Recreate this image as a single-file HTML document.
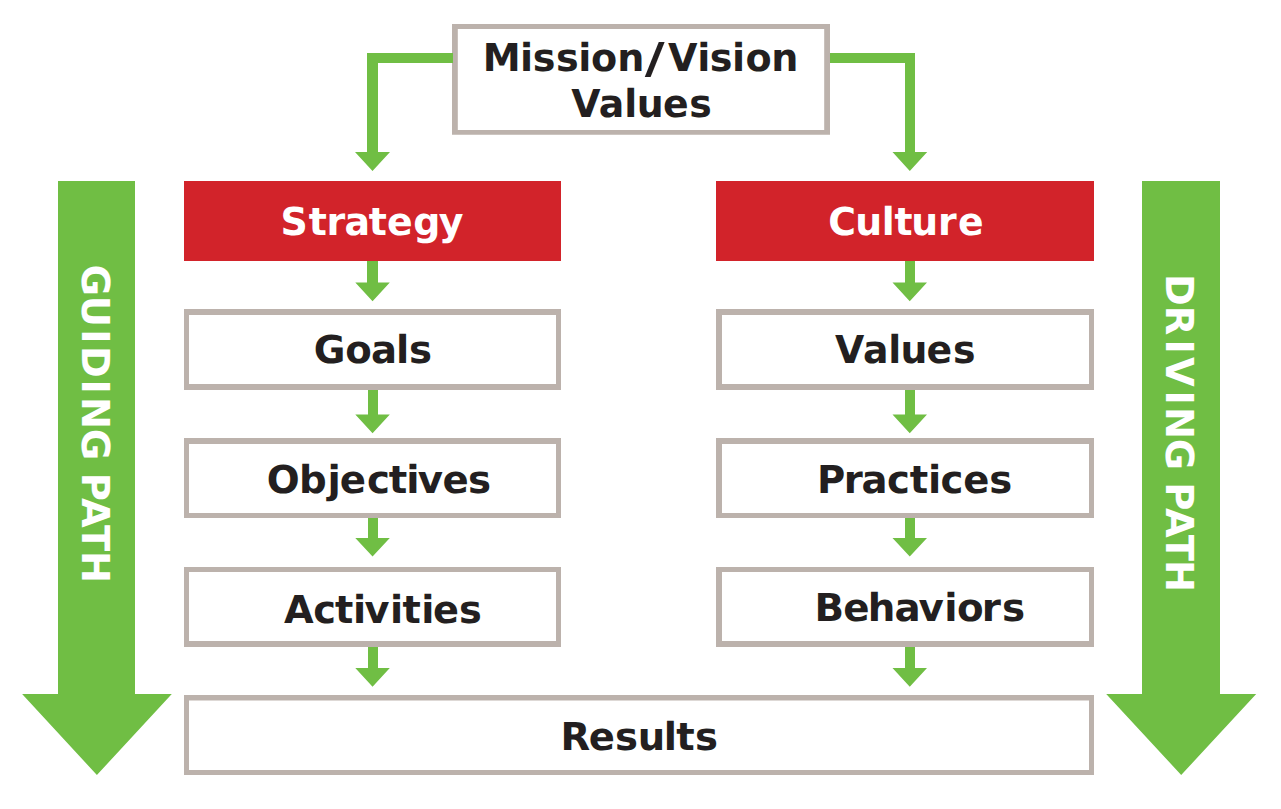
<!DOCTYPE html>
<html lang="en">
<head>
<meta charset="utf-8">
<title>Strategy and Culture: Guiding Path and Driving Path</title>
<style>
html,body{margin:0;padding:0;background:#fff;}
body{width:1281px;height:809px;overflow:hidden;}
svg{display:block;}
text{font-family:"DejaVu Sans","Liberation Sans",sans-serif;font-weight:700;font-size:38.5px;text-rendering:geometricPrecision;}
</style>
</head>
<body>
<svg width="1281" height="809" viewBox="0 0 1281 809">
<rect x="0" y="0" width="1281" height="809" fill="#fff"/>
<polygon points="367,261 378,261 378,282.5 389.8,282.5 372.55,301.3 355.3,282.5 367,282.5" fill="#70BE44"/>
<polygon points="905,261 915,261 915,282.5 927.0,282.5 909.75,301.3 892.5,282.5 905,282.5" fill="#70BE44"/>
<polygon points="368,390 378,390 378,414.5 389.8,414.5 372.55,433.3 355.3,414.5 368,414.5" fill="#70BE44"/>
<polygon points="368,518 378,518 378,538 389.8,538 372.55,556.6 355.3,538 368,538" fill="#70BE44"/>
<polygon points="368,647 378,647 378,668 389.8,668 372.55,686.7 355.3,668 368,668" fill="#70BE44"/>
<polygon points="905,390 915,390 915,414.5 927.0,414.5 909.75,433.3 892.5,414.5 905,414.5" fill="#70BE44"/>
<polygon points="905,518 915,518 915,538 927.0,538 909.75,556.6 892.5,538 905,538" fill="#70BE44"/>
<polygon points="905,647 915,647 915,668 927.0,668 909.75,686.7 892.5,668 905,668" fill="#70BE44"/>
<rect x="452" y="24" width="378" height="110.75" fill="#BCB2AC"/>
<rect x="457.8" y="29" width="366.4" height="101.0" fill="#fff"/>
<polygon points="453,53 453,63 378,63 378,152 390,152 372.5,171 355,152 367,152 367,53" fill="#70BE44"/>
<polygon points="830,53 830,63 905,63 905,152 892.5,152 909.8,171 927.2,152 915,152 915,53" fill="#70BE44"/>
<rect x="184" y="181" width="377" height="80" fill="#D2232A"/>
<rect x="716" y="181" width="378" height="80" fill="#D2232A"/>
<rect x="184" y="309" width="377" height="81" fill="#BCB2AC"/>
<rect x="189" y="315" width="367" height="69" fill="#fff"/>
<rect x="184" y="438" width="377" height="80" fill="#BCB2AC"/>
<rect x="189" y="444" width="367" height="69" fill="#fff"/>
<rect x="184" y="567" width="377" height="80" fill="#BCB2AC"/>
<rect x="189" y="572" width="367" height="69" fill="#fff"/>
<rect x="716" y="309" width="378" height="81" fill="#BCB2AC"/>
<rect x="722" y="315" width="367" height="69" fill="#fff"/>
<rect x="716" y="438" width="378" height="80" fill="#BCB2AC"/>
<rect x="722" y="444" width="367" height="69" fill="#fff"/>
<rect x="716" y="567" width="378" height="80" fill="#BCB2AC"/>
<rect x="722" y="572" width="367" height="69" fill="#fff"/>
<rect x="184" y="695" width="910" height="80" fill="#BCB2AC"/>
<rect x="189" y="700.5" width="900" height="69.5" fill="#fff"/>
<polygon points="58,181 135,181 135,694 171.8,694 96.9,775 22.1,694 58,694" fill="#70BE44"/>
<polygon points="1142,181 1220,181 1220,694 1256.2,694 1181.2,775 1106.2,694 1142,694" fill="#70BE44"/>
<text id="t0" transform="translate(482.87,71.0) scale(0.9902,1)" fill="#231F20"><tspan x="0 37.52 50.32 73.93 96.22 109.16 135.68">Mission</tspan><tspan x="163.43" dy="1.8" style="font-size:42.7px" textLength="20.1" lengthAdjust="spacingAndGlyphs">/</tspan><tspan x="187.03 216.42 229.19 251.71 265.33 291.15" dy="-1.8">Vision</tspan></text>
<text id="t1" transform="translate(571.18,116.6) scale(0.9829,1)" x="0 28.13 54.01 66.6 93.34 120.13" fill="#231F20">Values</text>
<text id="t2" transform="translate(280.38,235.0) scale(0.9844,1)" x="0 28.8 46.97 65.23 89.9 108.41 135 160.89" fill="#fff">Strategy</text>
<text id="t3" transform="translate(313.65,363.4) scale(1.0040,1)" x="0 31.4 57.1 82.08 94.99" fill="#231F20">Goals</text>
<text id="t4" transform="translate(266.67,492.6) scale(1.0062,1)" x="0 32.14 60.43 72.68 99.77 121.31 138.66 150.07 174.87 200.19" fill="#231F20">Objectives</text>
<text id="t5" transform="translate(283.92,623.0) scale(0.9954,1)" x="0 29.39 51.42 69.38 81.03 106.55 119.23 137.9 149.83 176" fill="#231F20">Activities</text>
<text id="t6" transform="translate(560.47,750.0) scale(1.0016,1)" x="0 28.36 54.46 77.05 103.21 115.62 134.34" fill="#231F20">Results</text>
<text id="t7" transform="translate(828.3,235.0) scale(0.9814,1)" x="0 27.5 54.56 67.36 84.64 111.68 132.07" fill="#fff">Culture</text>
<text id="t8" transform="translate(834.91,363.4) scale(0.9829,1)" x="0 28.49 54.21 66.8 93.31 120.21" fill="#231F20">Values</text>
<text id="t9" transform="translate(816.88,493.0) scale(1.0021,1)" x="0 26.86 44.45 70.1 92.64 110.83 123.47 145.96 172.12" fill="#231F20">Practices</text>
<text id="t10" transform="translate(814.49,620.6) scale(1.0083,1)" x="0 28.46 52.72 79.32 103.24 128.69 141.25 165.78 186.07" fill="#231F20">Behaviors</text>
<text id="t11" transform="translate(82.05,264.62) rotate(90) scale(0.9961,1)" x="0 31.38 65.01 81.62 115.35 133 164.69 196.29 208.91 234.3 261.37 287.5" fill="#fff">GUIDING PATH</text>
<text id="t12" transform="translate(1166.05,273.91) rotate(90) scale(0.9937,1)" x="0 32.06 65.99 83.56 117.42 133.97 165.81 197.41 209.59 235.51 262.6 287.96" fill="#fff">DRIVING PATH</text>
</svg>
</body>
</html>
